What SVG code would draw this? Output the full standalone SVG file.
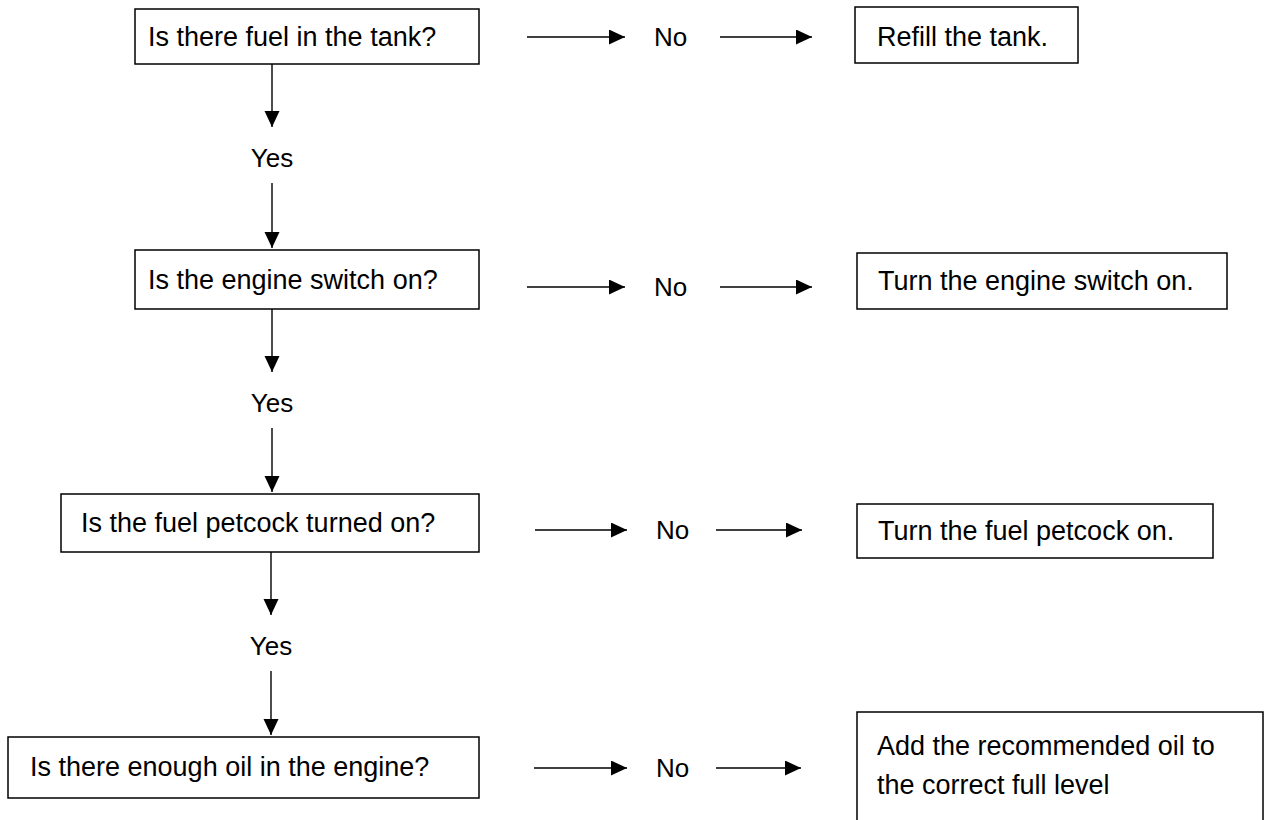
<svg xmlns="http://www.w3.org/2000/svg" width="1268" height="820" viewBox="0 0 1268 820">
<style>
.box{fill:#fff;stroke:#000;stroke-width:1.5}
.t{font-family:"Liberation Sans",Arial,sans-serif;font-size:27px;fill:#000}
.lbl{font-family:"Liberation Sans",Arial,sans-serif;font-size:26px;fill:#000}
.c{stroke:#000;stroke-width:1.4;fill:none;marker-end:url(#ah)}
</style>
<defs>
<marker id="ah" markerUnits="userSpaceOnUse" markerWidth="17" markerHeight="17" refX="16" refY="7.5" orient="auto">
<path d="M0,0 L16,7.5 L0,15 Z" fill="#000"/>
</marker>
</defs>
<rect width="1268" height="820" fill="#fff"/>
<g id="connectors">
<line class="c" x1="527" y1="37" x2="625" y2="37"/>
<line class="c" x1="720" y1="37" x2="812" y2="37"/>
<line class="c" x1="527" y1="287" x2="625" y2="287"/>
<line class="c" x1="720" y1="287" x2="812" y2="287"/>
<line class="c" x1="535" y1="530" x2="627" y2="530"/>
<line class="c" x1="716" y1="530" x2="802" y2="530"/>
<line class="c" x1="534" y1="768" x2="627" y2="768"/>
<line class="c" x1="716" y1="768" x2="801" y2="768"/>
<line class="c" x1="272" y1="64" x2="272" y2="127"/>
<line class="c" x1="272" y1="183" x2="272" y2="248"/>
<line class="c" x1="272" y1="309" x2="272" y2="372"/>
<line class="c" x1="272" y1="428" x2="272" y2="492"/>
<line class="c" x1="271" y1="552" x2="271" y2="615"/>
<line class="c" x1="271" y1="671" x2="271" y2="735"/>
<text class="lbl" x="654" y="46">No</text>
<text class="lbl" x="654" y="296">No</text>
<text class="lbl" x="656" y="539">No</text>
<text class="lbl" x="656" y="777">No</text>
<text class="lbl" x="272" y="167" text-anchor="middle">Yes</text>
<text class="lbl" x="272" y="412" text-anchor="middle">Yes</text>
<text class="lbl" x="271" y="655" text-anchor="middle">Yes</text>
</g>
<g id="q1"><rect class="box" x="135" y="9" width="344" height="55"/><text class="t" x="148" y="46">Is there fuel in the tank?</text></g>
<g id="a1"><rect class="box" x="855" y="7" width="223" height="56"/><text class="t" x="877" y="46">Refill the tank.</text></g>
<g id="q2"><rect class="box" x="135" y="250" width="344" height="59"/><text class="t" x="148" y="289">Is the engine switch on?</text></g>
<g id="a2"><rect class="box" x="857" y="253" width="370" height="56"/><text class="t" x="878" y="290">Turn the engine switch on.</text></g>
<g id="q3"><rect class="box" x="61" y="494" width="418" height="58"/><text class="t" x="81" y="532">Is the fuel petcock turned on?</text></g>
<g id="a3"><rect class="box" x="857" y="504" width="356" height="54"/><text class="t" x="878" y="540">Turn the fuel petcock on.</text></g>
<g id="q4"><rect class="box" x="8" y="737" width="471" height="61"/><text class="t" x="30" y="776">Is there enough oil in the engine?</text></g>
<g id="a4"><rect class="box" x="857" y="712" width="406" height="120"/><text class="t" x="877" y="755">Add the recommended oil to</text><text class="t" x="877" y="794">the correct full level</text></g>
</svg>
